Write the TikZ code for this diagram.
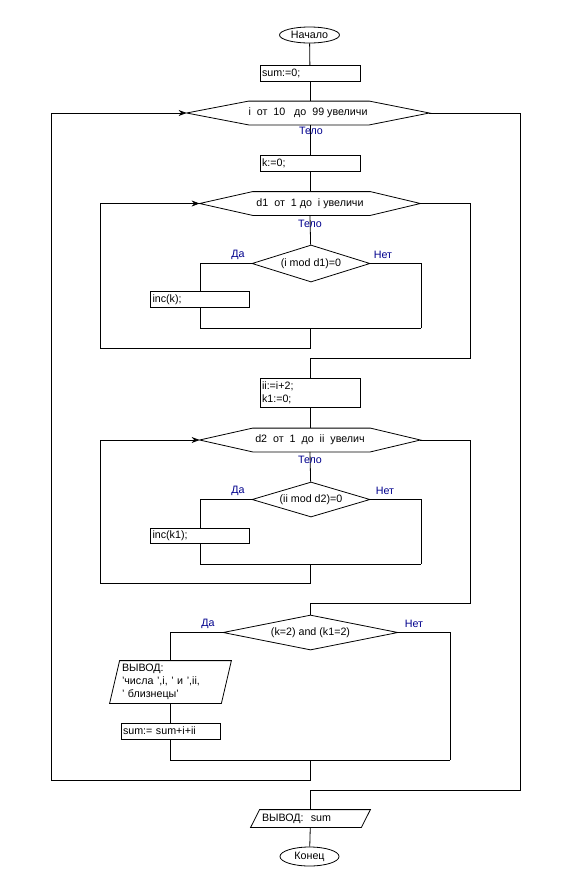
\documentclass[tikz,border=0pt]{standalone}
\usepackage{fontspec}
\setmainfont{Liberation Sans}
\usetikzlibrary{shapes.geometric,arrows.meta}
\definecolor{labblue}{RGB}{0,0,140}

\begin{document}
\begin{tikzpicture}[x=1pt,y=-1pt,line width=0.8pt,back/.style={>={Stealth[length=8pt,width=6pt]}},
  every node/.style={font=\fontsize{10.7}{13}\selectfont},
  term/.style={ellipse,draw,inner sep=0pt},
  op/.style={rectangle,draw,inner xsep=2pt,inner ysep=0pt,align=left,text width=96pt,minimum height=16pt},
  head/.style={inner sep=0pt,minimum height=23pt},
  cond/.style={diamond,draw,inner sep=0pt,aspect=3},
  io/.style={inner ysep=0pt,align=left},
  lab/.style={text=labblue,inner sep=0pt}]
        \useasboundingbox (0,0) rectangle (570,892);
        % start
        \node[term,minimum width=60pt,minimum height=16pt] (start) at (309.5,35) {Начало};
        \node[op] (sum0) at (310,73.5) {sum:=0;};
        % outer loop
        \node[head,minimum width=242pt] (loopi) at (308,113) {i\ \ от\ \ 10\ \ \ до\ \ 99 увеличи};
        \draw (loopi.west) -- ([xshift=62pt]loopi.north west) -- ([xshift=-60pt]loopi.north east) -- (loopi.east)
              -- ([xshift=-60pt]loopi.south east) -- ([xshift=62pt]loopi.south west) -- cycle;
        \node[op] (k0) at (310,163) {k:=0;};
        % first inner loop
        \node[head,minimum width=220pt] (loopd1) at (310,203.5) {d1\ \ от\ \ 1 до\ \ i увеличи};
        \draw (loopd1.west) -- ([xshift=53pt]loopd1.north west) -- ([xshift=-50pt]loopd1.north east) -- (loopd1.east)
              -- ([xshift=-50pt]loopd1.south east) -- ([xshift=53pt]loopd1.south west) -- cycle;
        \node[cond,minimum width=118pt,minimum height=37pt] (if1) at (311,263.5) {(i mod d1)=0};
        \node[op,text width=95pt] (inck) at (200,299.5) {inc(k);};
        \coordinate (m1) at (310,328);
        \coordinate (r1) at (421,328);
        \coordinate (lb1) at (100,348);
        \coordinate (ex1) at (470,358);
        % second inner loop
        \node[op,minimum height=29pt] (box2) at (310,392.5) {ii:=i+2;\\k1:=0;};
        \node[head,minimum width=220pt] (loopd2) at (310,440) {d2\ \ от\ \ 1\ \ до\ \ ii\ \ увелич};
        \draw (loopd2.west) -- ([xshift=53pt]loopd2.north west) -- ([xshift=-50pt]loopd2.north east) -- (loopd2.east)
              -- ([xshift=-50pt]loopd2.south east) -- ([xshift=53pt]loopd2.south west) -- cycle;
        \node[cond,minimum width=118pt,minimum height=35pt] (if2) at (311,499.5) {(ii mod d2)=0};
        \node[op,text width=95pt,minimum height=15pt] (inck1) at (200,535.5) {inc(k1);};
        \coordinate (m2) at (310,564);
        \coordinate (r2) at (421,564);
        \coordinate (lb2) at (100,583);
        \coordinate (ex2) at (470,603);
        % twins check
        \node[cond,minimum width=175pt,minimum height=35pt,aspect=5] (if3) at (310.5,632.5) {(k=2) and (k1=2)};
        \node[io,minimum width=121pt,minimum height=42pt,inner xsep=12pt,text width=97pt] (out1) at (170.5,682)
              {ВЫВОД:\\'числа ',i, ' и ',ii,\\' близнецы'};
        \draw ([xshift=10pt]out1.north west) -- (out1.north east) -- ([xshift=-10pt]out1.south east) -- (out1.south west) -- cycle;
        \node[op,text width=95pt] (sumbox) at (170.5,731) {sum:= sum+i+ii};
        \coordinate (m3) at (310,760);
        \coordinate (r3) at (450,760);
        \coordinate (lb0) at (51,780);
        \coordinate (ex0) at (520,790);
        % end
        \node[io,minimum width=119pt,minimum height=17pt,inner xsep=11pt,text width=97pt] (outsum) at (310.5,818.5) {ВЫВОД:\ \ sum};
        \draw ([xshift=9pt]outsum.north west) -- (outsum.north east) -- ([xshift=-9pt]outsum.south east) -- (outsum.south west) -- cycle;
        \node[term,minimum width=59pt,minimum height=19pt] (end) at (309.5,856.5) {Конец};
        % connectors
        \draw (start) -- (sum0);
        \draw (sum0) -- (sum0|-loopi.north);
        \draw (sum0|-loopi.south) -- (k0);
        \draw (k0) -- (k0|-loopd1.north);
        \draw (k0|-loopd1.south) -- (if1);
        \draw (if1.west) -| (inck.north);
        \draw (inck.south) |- (r1);
        \draw (if1.east) -| (r1);
        \draw [back,->] (m1) |- (lb1) |- (loopd1.west);
        \draw (loopd1.east) -| (ex1) -| (box2.north);
        \draw (box2) -- (box2|-loopd2.north);
        \draw (box2|-loopd2.south) -- (if2);
        \draw (if2.west) -| (inck1.north);
        \draw (inck1.south) |- (r2);
        \draw (if2.east) -| (r2);
        \draw [back,->] (m2) |- (lb2) |- (loopd2.west);
        \draw (loopd2.east) -| (ex2) -| (if3.north);
        \draw (if3.west) -| (out1.north);
        \draw (out1) -- (sumbox);
        \draw (sumbox.south) |- (r3);
        \draw (if3.east) -| (r3);
        \draw [back,->] (m3) |- (lb0) |- (loopi.west);
        \draw (loopi.east) -| (ex0) -| (outsum.north);
        \draw (outsum) -- (end);
        % labels
        \node[lab] (tel1) at (311,131) {Тело};
        \node[lab] (tel2) at (310,224) {Тело};
        \node[lab] (tel3) at (310,460) {Тело};
        \node[lab] (da1) at (238,255) {Да};
        \node[lab] (net1) at (383,255) {Нет};
        \node[lab] (da2) at (238,491) {Да};
        \node[lab] (net2) at (385,491) {Нет};
        \node[lab] (da3) at (208,624) {Да};
        \node[lab] (net3) at (414,624) {Нет};
    \end{tikzpicture}
\end{document}
